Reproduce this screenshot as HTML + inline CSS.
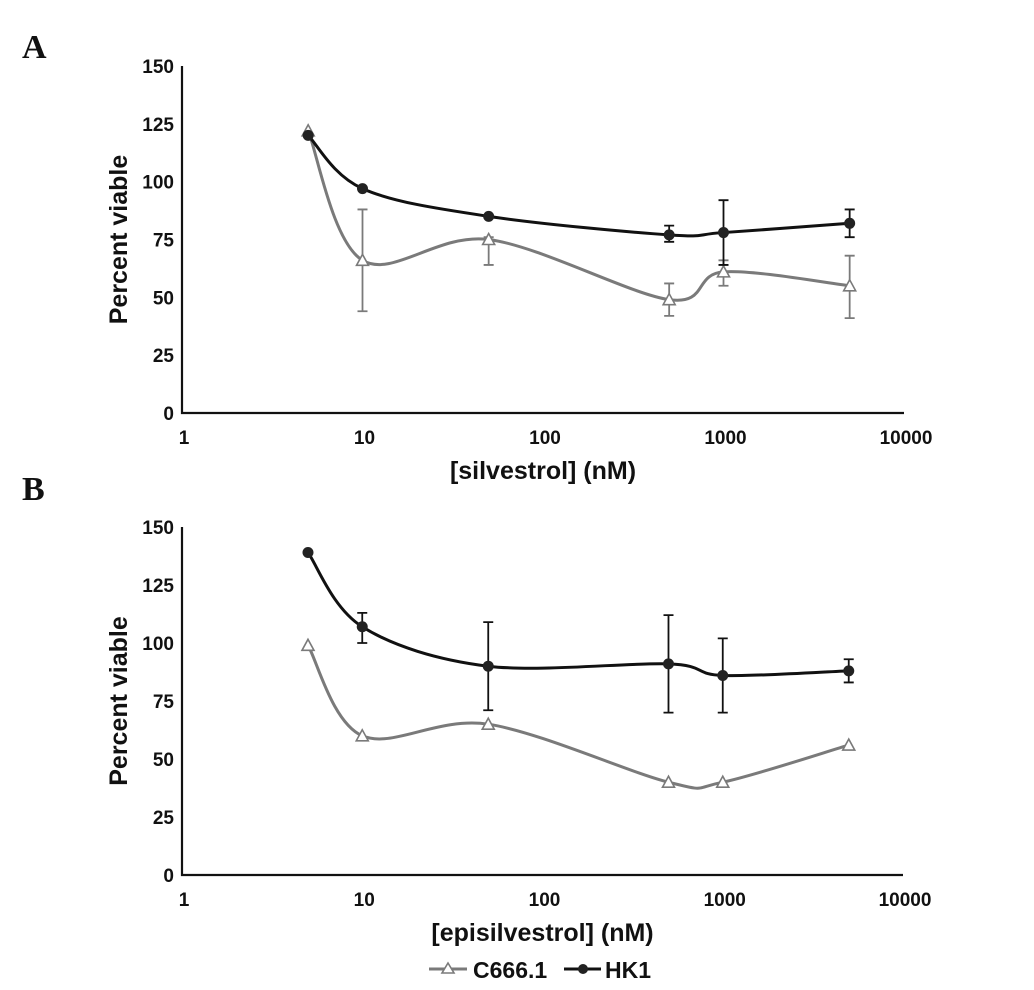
<!DOCTYPE html>
<html><head><meta charset="utf-8"><style>
body{margin:0;background:#fff}
svg{display:block}
text{font-family:"Liberation Sans",sans-serif;font-weight:bold;fill:#111}
.pl{font-family:"Liberation Serif",serif;font-size:34px}
</style></head><body>
<svg id="chart" width="1034" height="990" viewBox="0 0 1034 990" xmlns="http://www.w3.org/2000/svg">
<text class="pl" x="22" y="58">A</text>
<text class="pl" x="22" y="500">B</text>
<g id="legend">
  <g>
    <line x1="429" y1="969" x2="467" y2="969" stroke="#7a7a7a" stroke-width="3"/>
    <polygon points="448,963 442,973 454,973" fill="#fff" stroke="#7a7a7a" stroke-width="1.6"/>
    <text x="473" y="978" font-size="23">C666.1</text>
  </g>
  <g>
    <line x1="564" y1="969" x2="601" y2="969" stroke="#111" stroke-width="3"/>
    <circle cx="583" cy="969" r="5" fill="#222"/>
    <text x="605" y="978" font-size="23">HK1</text>
  </g>
</g>
</svg>
<script>
const concentrations=[5,10,50,500,1000,5000];
const yTicks=[0,25,50,75,100,125,150];
const xTicks=[1,10,100,1000,10000];
const aHK1=[120,97,85,77,78,82];
const aHK1Lo=[120,97,85,74,64,76];
const aHK1Hi=[120,97,85,81,92,88];
const aC666=[122,66,75,49,61,55];
const aC666Lo=[122,44,64,42,55,41];
const aC666Hi=[122,88,76,56,66,68];
const bHK1=[139,107,90,91,86,88];
const bHK1Lo=[139,100,71,70,70,83];
const bHK1Hi=[139,113,109,112,102,93];
const bC666=[99,60,65,40,40,56];
const bC666Lo=[99,60,65,40,40,56];
const bC666Hi=[99,60,65,40,40,56];

const NS="http://www.w3.org/2000/svg";
const svg=document.getElementById('chart');
function mk(tag,attrs,parent){const e=document.createElementNS(NS,tag);for(const k in attrs)e.setAttribute(k,attrs[k]);(parent||svg).appendChild(e);return e;}

function smoothPath(pts){
  let d=`M${pts[0][0]},${pts[0][1]}`;
  for(let i=0;i<pts.length-1;i++){
    const p0=pts[i-1]||pts[i],p1=pts[i],p2=pts[i+1],p3=pts[i+2]||p2;
    const t=0.5/3;
    const c1=[p1[0]+(p2[0]-p0[0])*t,p1[1]+(p2[1]-p0[1])*t];
    const c2=[p2[0]-(p3[0]-p1[0])*t,p2[1]-(p3[1]-p1[1])*t];
    d+=` C${c1[0]},${c1[1]} ${c2[0]},${c2[1]} ${p2[0]},${p2[1]}`;
  }
  return d;
}

function panel(cfg){
  const {x0,x1,yTop,yBot,title,prefix,hk,hkLo,hkHi,c6,c6Lo,c6Hi}=cfg;
  const xs=v=>x0+Math.log10(v)/4*(x1-x0);
  const ys=v=>yBot-(v/150)*(yBot-yTop);
  const g=mk('g',{});
  
  
  const ax=mk('path',{d:`M${x0},${yTop} V${yBot} H${x1}`,fill:'none',stroke:'#111','stroke-width':2.2},g);
  
  
  yTicks.forEach(v=>{
    const t=mk('text',{x:x0-8,y:ys(v)+7,'text-anchor':'end','font-size':19},g);
    t.textContent=v;
    
    
  });
  xTicks.forEach(v=>{
    const t=mk('text',{x:xs(v)+2,y:yBot+31,'text-anchor':'middle','font-size':19},g);
    t.textContent=v;
    
    
  });
  const yt=mk('text',{x:0,y:0,'text-anchor':'middle','font-size':25,transform:`translate(${x0-55},${(yTop+yBot)/2}) rotate(-90)`},g);
  yt.textContent='Percent viable';
  
  
  const xt=mk('text',{x:(x0+x1)/2,y:yBot+66,'text-anchor':'middle','font-size':25},g);
  xt.textContent=title;
  
  

  const series=[
    {name:'c666',vals:c6,lo:c6Lo,hi:c6Hi,col:'#7a7a7a',tri:true},
    {name:'hk1',vals:hk,lo:hkLo,hi:hkHi,col:'#111',tri:false}
  ];
  series.forEach(s=>{
    const sg=mk('g',{},g);
    
    
    concentrations.forEach((c,i)=>{
      if(s.hi[i]-s.lo[i]<1)return;
      const x=xs(c);
      const e=mk('path',{d:`M${x},${ys(s.lo[i])} V${ys(s.hi[i])} M${x-5},${ys(s.lo[i])} H${x+5} M${x-5},${ys(s.hi[i])} H${x+5}`,stroke:s.col,'stroke-width':1.8,fill:'none'},sg);
      
      
    });
    const pts=concentrations.map((c,i)=>[xs(c),ys(s.vals[i])]);
    const ln=mk('path',{d:smoothPath(pts),fill:'none',stroke:s.col,'stroke-width':3},sg);
    
    
    pts.forEach(p=>{
      let m;
      if(s.tri){
        m=mk('polygon',{points:`${p[0]},${p[1]-6} ${p[0]-6},${p[1]+5} ${p[0]+6},${p[1]+5}`,fill:'#fff',stroke:s.col,'stroke-width':1.6},sg);
      }else{
        m=mk('circle',{cx:p[0],cy:p[1],r:5.5,fill:'#222'},sg);
      }
      
      
    });
  });
}

panel({x0:182,x1:904,yTop:66,yBot:413,title:'[silvestrol] (nM)',prefix:'panel-a',hk:aHK1,hkLo:aHK1Lo,hkHi:aHK1Hi,c6:aC666,c6Lo:aC666Lo,c6Hi:aC666Hi});
panel({x0:182,x1:903,yTop:527,yBot:875,title:'[episilvestrol] (nM)',prefix:'panel-b',hk:bHK1,hkLo:bHK1Lo,hkHi:bHK1Hi,c6:bC666,c6Lo:bC666Lo,c6Hi:bC666Hi});
</script>
</body></html>
